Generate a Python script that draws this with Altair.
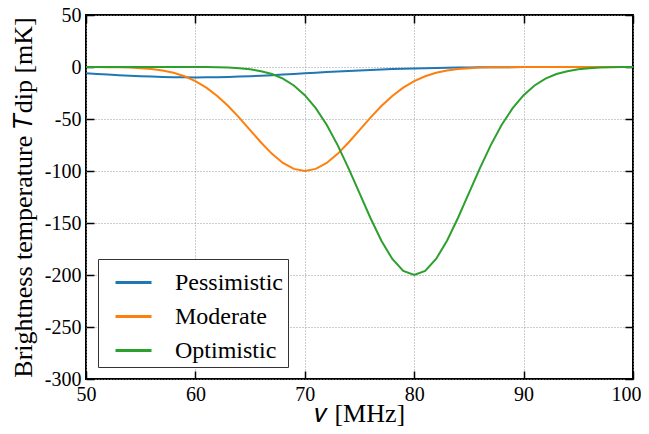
import altair as alt
import pandas as pd

freq = list(range(50, 101))

pessimistic = [-6.07, -6.67, -7.26, -7.83, -8.35, -8.82, -9.23, -9.56, -9.80, -9.95,
               -10.0, -9.95, -9.80, -9.56, -9.23, -8.82, -8.35, -7.83, -7.26, -6.67,
               -6.07, -5.46, -4.87, -4.30, -3.75, -3.25, -2.78, -2.36, -1.98, -1.64,
               -1.35, -1.10, -0.89, -0.71, -0.56, -0.44, -0.34, -0.26, -0.20, -0.15,
               -0.11, -0.08, -0.06, -0.04, -0.03, -0.02, -0.02, -0.01, -0.01, -0.01, 0.0]

moderate = [0.0, -0.1, -0.2, -0.3, -0.6, -1.1, -2.0, -3.4, -5.6, -8.9,
            -13.5, -19.8, -27.8, -37.5, -48.7, -60.7, -72.6, -83.5, -92.3, -98.0,
            -100.0, -98.0, -92.3, -83.5, -72.6, -60.7, -48.7, -37.5, -27.8, -19.8,
            -13.5, -8.9, -5.6, -3.4, -2.0, -1.1, -0.6, -0.3, -0.2, -0.1,
            0.0, 0.0, 0.0, 0.0, 0.0, 0.0, 0.0, 0.0, 0.0, 0.0, 0.0]

optimistic = [0.0, 0.0, 0.0, 0.0, 0.0, 0.0, 0.0, 0.0, 0.0, 0.0,
              -0.1, -0.1, -0.3, -0.6, -1.2, -2.2, -4.0, -6.8, -11.2, -17.8,
              -27.1, -39.6, -55.6, -75.1, -97.4, -121.3, -145.2, -167.1, -184.6, -196.0,
              -200.0, -196.0, -184.6, -167.1, -145.2, -121.3, -97.4, -75.1, -55.6, -39.6,
              -27.1, -17.8, -11.2, -6.8, -4.0, -2.2, -1.2, -0.6, -0.3, -0.1, -0.1]

series_names = ["Pessimistic", "Moderate", "Optimistic"]
series_colors = ["#1f77b4", "#ff7f0e", "#2ca02c"]
x_ticks = [50, 60, 70, 80, 90, 100]
y_ticks = [-300, -250, -200, -150, -100, -50, 0, 50]

rows = []
for name, vals in zip(series_names, [pessimistic, moderate, optimistic]):
    for f, v in zip(freq, vals):
        rows.append({"freq": f, "T": v, "series": name})
df = pd.DataFrame(rows)

FONT = "Liberation Serif"
xscale = alt.Scale(domain=[50, 100], nice=False, zero=False)
yscale = alt.Scale(domain=[-300, 50], nice=False, zero=False)

common = dict(offset=-8, tickSize=8, tickWidth=1.5, tickColor="black", domain=False,
              labelFont=FONT, titleFont=FONT, labelColor="black", titleColor="black",
              labelFlush=False, labelOverlap=False)

main = alt.Chart(df).mark_line(strokeWidth=2, clip=True).encode(
    x=alt.X("freq:Q", scale=xscale,
            axis=alt.Axis(orient="bottom", values=x_ticks, title="𝜈 [MHz]",
                          grid=True, gridDash=[1, 2], gridColor="#999999",
                          gridWidth=1, labelFontSize=20, labelPadding=5,
                          labelOffset={"condition": {"test": "datum.value == 100", "value": -7},
                                       "value": 0},
                          labelExpr="'' + datum.value",
                          titleFontSize=26, titleFontWeight="normal", titlePadding=-4,
                          **common)),
    y=alt.Y("T:Q", scale=yscale,
            axis=alt.Axis(orient="left", values=y_ticks,
                          title="Brightness temperature 𝑇dip [mK]",
                          grid=True, gridDash=[1, 2], gridColor="#999999",
                          gridWidth=1, labelFontSize=20, labelPadding=5,
                          labelExpr="'' + datum.value",
                          titleFontSize=26, titleFontWeight="normal", titlePadding=8,
                          **common)),
    color=alt.Color("series:N", scale=alt.Scale(domain=series_names, range=series_colors),
                    legend=alt.Legend(title=None, orient="bottom-left", offset=12,
                                      symbolType="stroke", symbolSize=1296,
                                      symbolStrokeWidth=3, labelFontSize=24,
                                      labelFont=FONT, labelColor="black",
                                      labelOffset=22, symbolOffset=12, padding=4,
                                      rowPadding=2, fillColor="white",
                                      strokeColor="#333333", cornerRadius=0)),
)

ticks = alt.Chart(df).mark_point(opacity=0).encode(
    x=alt.X("freq:Q", scale=xscale,
            axis=alt.Axis(orient="top", values=x_ticks, title=None, labels=False,
                          grid=False, **common)),
    y=alt.Y("T:Q", scale=yscale,
            axis=alt.Axis(orient="right", values=y_ticks, title=None, labels=False,
                          grid=False, **common)),
)

chart = alt.layer(main, ticks).resolve_scale(x="independent", y="independent").properties(
    width=547, height=364,
    autosize=alt.AutoSizeParams(type="none"),
    padding={"left": 78, "top": 7, "right": 8, "bottom": 47},
).configure(font=FONT).configure_view(
    stroke="black", strokeWidth=2
)

chart.save("out.html", embed_options={"renderer": "svg", "actions": False})
